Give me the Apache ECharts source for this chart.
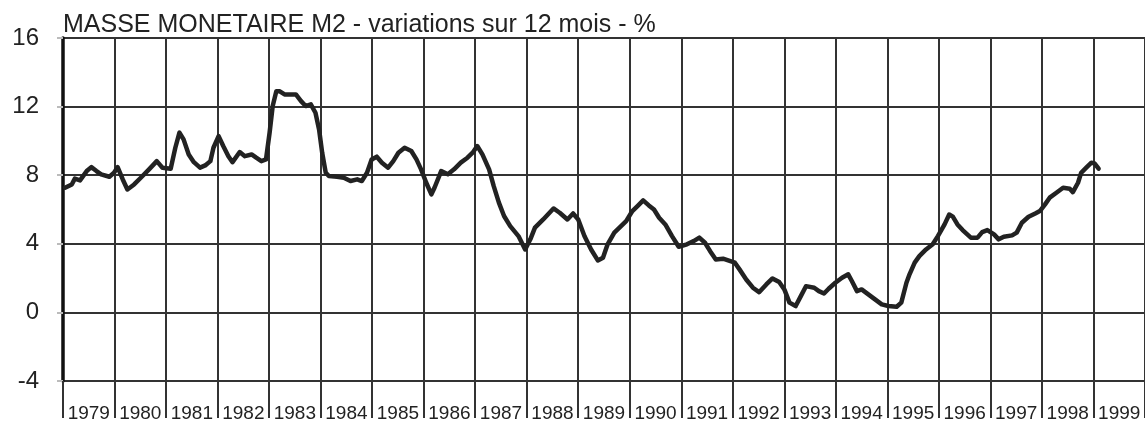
<!DOCTYPE html>
<html>
<head>
<meta charset="utf-8">
<script src="https://cdn.jsdelivr.net/npm/echarts@6/dist/echarts.min.js"></script>
<style>
  html, body { margin: 0; padding: 0; background: #fff; }
</style>
</head>
<body>
<div id="chart" style="width: 1145px; height: 423px;"></div>
<script>
// annees affichees sous l'axe
var years = ["1979", "1980", "1981", "1982", "1983", "1984", "1985", "1986", "1987", "1988",
  "1989", "1990", "1991", "1992", "1993", "1994", "1995", "1996", "1997", "1998", "1999"];

// dates (annee decimale) et variation sur 12 mois de M2 (%)
var dates = [
  1979.04, 1979.17, 1979.23, 1979.33, 1979.46, 1979.55, 1979.65, 1979.74, 1979.90, 1979.99,
  1980.06, 1980.16, 1980.25, 1980.38, 1980.51, 1980.67, 1980.82, 1980.93, 1981.09, 1981.18,
  1981.26, 1981.34, 1981.44, 1981.54, 1981.66, 1981.76, 1981.86, 1981.92, 1982.02, 1982.11,
  1982.21, 1982.29, 1982.43, 1982.53, 1982.66, 1982.75, 1982.85, 1982.94, 1983.01, 1983.07,
  1983.14, 1983.20, 1983.30, 1983.42, 1983.52, 1983.62, 1983.71, 1983.81, 1983.90, 1983.97,
  1984.03, 1984.10, 1984.16, 1984.32, 1984.45, 1984.58, 1984.71, 1984.80, 1984.90, 1984.99,
  1985.09, 1985.19, 1985.31, 1985.41, 1985.51, 1985.63, 1985.76, 1985.86, 1985.95, 1986.05,
  1986.15, 1986.21, 1986.34, 1986.47, 1986.59, 1986.72, 1986.85, 1986.95, 1987.04, 1987.14,
  1987.27, 1987.36, 1987.46, 1987.56, 1987.68, 1987.84, 1987.97, 1988.07, 1988.16, 1988.32,
  1988.52, 1988.64, 1988.79, 1988.90, 1989.00, 1989.12, 1989.25, 1989.38, 1989.48, 1989.57,
  1989.70, 1989.83, 1989.93, 1990.05, 1990.15, 1990.26, 1990.37, 1990.47, 1990.57, 1990.69,
  1990.82, 1990.95, 1991.11, 1991.24, 1991.35, 1991.46, 1991.56, 1991.67, 1991.81, 1991.91,
  1992.04, 1992.13, 1992.26, 1992.39, 1992.51, 1992.65, 1992.77, 1992.90, 1993.00, 1993.10,
  1993.22, 1993.32, 1993.42, 1993.58, 1993.67, 1993.77, 1993.86, 1993.99, 1994.12, 1994.24,
  1994.31, 1994.41, 1994.50, 1994.63, 1994.76, 1994.89, 1995.02, 1995.18, 1995.27, 1995.37,
  1995.43, 1995.53, 1995.62, 1995.75, 1995.88, 1995.98, 1996.11, 1996.20, 1996.27, 1996.36,
  1996.46, 1996.62, 1996.75, 1996.84, 1996.94, 1997.07, 1997.16, 1997.26, 1997.42, 1997.51,
  1997.61, 1997.74, 1997.87, 1997.96, 1998.06, 1998.15, 1998.28, 1998.41, 1998.54, 1998.60,
  1998.70, 1998.76, 1998.86, 1998.96, 1999.02, 1999.10
];
var m2 = [
  7.27, 7.46, 7.80, 7.70, 8.24, 8.47, 8.24, 8.05, 7.91, 8.14,
  8.47, 7.75, 7.17, 7.46, 7.85, 8.34, 8.82, 8.44, 8.38, 9.60,
  10.48, 10.09, 9.21, 8.76, 8.44, 8.57, 8.82, 9.60, 10.28, 9.70,
  9.11, 8.76, 9.35, 9.11, 9.21, 9.02, 8.82, 8.92, 10.48, 12.03,
  12.90, 12.90, 12.71, 12.71, 12.71, 12.32, 12.03, 12.13, 11.64, 10.67,
  9.31, 8.14, 7.95, 7.91, 7.85, 7.66, 7.76, 7.66, 8.14, 8.92,
  9.08, 8.73, 8.44, 8.82, 9.31, 9.60, 9.41, 8.92, 8.34, 7.56,
  6.88, 7.27, 8.24, 8.05, 8.34, 8.73, 9.02, 9.31, 9.70, 9.21,
  8.34, 7.36, 6.40, 5.62, 5.03, 4.45, 3.67, 4.26, 4.94, 5.42,
  6.06, 5.81, 5.42, 5.77, 5.42, 4.45, 3.67, 3.03, 3.19, 3.97,
  4.65, 5.03, 5.32, 5.91, 6.20, 6.53, 6.24, 6.00, 5.52, 5.13,
  4.45, 3.83, 3.97, 4.16, 4.36, 4.06, 3.57, 3.09, 3.13, 3.03,
  2.90, 2.51, 1.92, 1.44, 1.18, 1.63, 1.98, 1.77, 1.34, 0.57,
  0.37, 0.95, 1.53, 1.44, 1.24, 1.10, 1.38, 1.73, 2.02, 2.22,
  1.83, 1.24, 1.34, 1.05, 0.76, 0.47, 0.37, 0.33, 0.57, 1.73,
  2.22, 2.90, 3.28, 3.67, 3.97, 4.45, 5.13, 5.71, 5.58, 5.13,
  4.80, 4.36, 4.36, 4.68, 4.80, 4.55, 4.26, 4.41, 4.49, 4.65,
  5.23, 5.58, 5.77, 5.91, 6.30, 6.69, 6.98, 7.27, 7.21, 7.01,
  7.56, 8.14, 8.44, 8.73, 8.69, 8.38
];

var yTicks = { min: -4, max: 16, step: 4 };

var font = "'Liberation Sans', Arial, sans-serif";

var chart = echarts.init(document.getElementById("chart"));
var option = {
  animation: false,
  backgroundColor: "#fff",
  title: {
    text: "MASSE MONETAIRE M2 - variations sur 12 mois - %",
    left: 63,
    top: 13,
    padding: 0,
    textStyle: { fontFamily: font, fontSize: 25, fontWeight: "normal", color: "#222" }
  },
  grid: { left: 63, top: 38, width: 1093, height: 343 },
  xAxis: [
    {
      // axe numerique : traits verticaux a chaque debut d'annee
      type: "value",
      min: 1979,
      max: 2000,
      interval: 1,
      axisLine: { show: false, onZero: false },
      axisLabel: { show: false },
      axisTick: { show: true, length: 37, lineStyle: { color: "#333", width: 2 } },
      splitLine: { show: true, lineStyle: { color: "#333", width: 2 } }
    },
    {
      // libelles des annees, centres dans chaque intervalle
      type: "category",
      position: "bottom",
      data: years,
      boundaryGap: true,
      axisLine: { show: false, onZero: false },
      axisTick: { show: false },
      splitLine: { show: false },
      axisLabel: { fontFamily: font, fontSize: 19, color: "#222", margin: 23, interval: 0 }
    }
  ],
  yAxis: {
    type: "value",
    min: yTicks.min,
    max: yTicks.max,
    interval: yTicks.step,
    axisLine: { show: true, onZero: false, lineStyle: { color: "#111", width: 3.5 } },
    axisTick: { show: true, length: 6, lineStyle: { color: "#bbb", width: 2 } },
    axisLabel: { fontFamily: font, fontSize: 24, color: "#222", margin: 24 },
    splitLine: { show: true, lineStyle: { color: "#333", width: 2 } }
  },
  series: [
    {
      type: "line",
      xAxisIndex: 0,
      showSymbol: false,
      data: dates.map(function (d, i) { return [d, m2[i]]; }),
      lineStyle: { color: "#222", width: 4.5, join: "round", cap: "round" }
    }
  ]
};
chart.setOption(option);
</script>
</body>
</html>
